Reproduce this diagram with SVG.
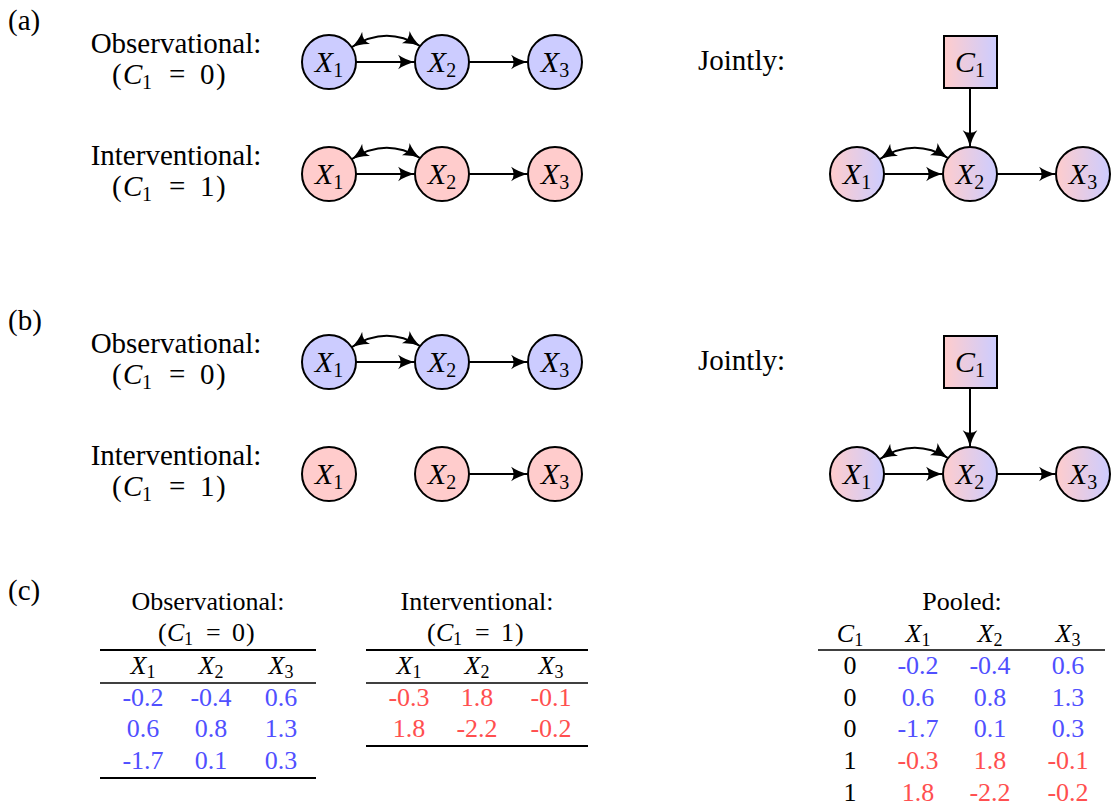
<svg xmlns="http://www.w3.org/2000/svg" width="1112" height="808" viewBox="0 0 1112 808" font-family="'Liberation Serif', 'Times New Roman', serif">
<defs>
<linearGradient id="mix" x1="0" y1="0" x2="1" y2="0">
<stop offset="0" stop-color="#ffcccc"/>
<stop offset="1" stop-color="#ccccff"/>
</linearGradient>
<marker id="arr" viewBox="0 0 16 14" refX="15" refY="7" markerWidth="9" markerHeight="7.9" orient="auto-start-reverse">
<path d="M0,0.5 Q7,5.5 16,7 Q7,8.5 0,13.5 Q4.5,7 0,0.5 Z" fill="#000"/>
</marker>
<style>
.lab{font-size:29px;text-anchor:middle}
.lab2{font-size:29px}
.m{font-size:29px}
.nl{font-size:30px;text-anchor:middle}
.sub{font-size:20px}
.tb{font-size:26px;text-anchor:middle}
.tm{font-size:26px}
.tsub{font-size:18px}
.it{font-style:italic}
.blue{fill:#5050ff}
.red{fill:#ff4f4f}
.obs{fill:#ccccff;stroke:#000;stroke-width:2}
.int{fill:#ffcccc;stroke:#000;stroke-width:2}
.jnt{fill:url(#mix);stroke:#000;stroke-width:2}
.e{fill:none;stroke:#000;stroke-width:2;marker-end:url(#arr)}
.bi{fill:none;stroke:#000;stroke-width:2;marker-end:url(#arr);marker-start:url(#arr)}
.rule{stroke:#000;stroke-width:2}
.mrule{stroke:#000;stroke-width:1.3}
</style>
</defs>

<g id="labels">
<text class="lab2" x="8" y="30">(a)</text>
<text class="lab" x="176" y="53">Observational:</text>
<text class="m" y="84"><tspan x="112">(</tspan><tspan x="123" class="it">C</tspan><tspan x="142" class="sub" dy="5">1</tspan><tspan x="169" dy="-5">=</tspan><tspan x="200">0</tspan><tspan x="216">)</tspan></text>
<text class="lab" x="176" y="165">Interventional:</text>
<text class="m" y="196"><tspan x="112">(</tspan><tspan x="123" class="it">C</tspan><tspan x="142" class="sub" dy="5">1</tspan><tspan x="169" dy="-5">=</tspan><tspan x="200">1</tspan><tspan x="216">)</tspan></text>
<text class="lab2" x="698" y="70">Jointly:</text>

<text class="lab2" x="8" y="330">(b)</text>
<text class="lab" x="176" y="353">Observational:</text>
<text class="m" y="384"><tspan x="112">(</tspan><tspan x="123" class="it">C</tspan><tspan x="142" class="sub" dy="5">1</tspan><tspan x="169" dy="-5">=</tspan><tspan x="200">0</tspan><tspan x="216">)</tspan></text>
<text class="lab" x="176" y="465">Interventional:</text>
<text class="m" y="496"><tspan x="112">(</tspan><tspan x="123" class="it">C</tspan><tspan x="142" class="sub" dy="5">1</tspan><tspan x="169" dy="-5">=</tspan><tspan x="200">1</tspan><tspan x="216">)</tspan></text>
<text class="lab2" x="698" y="370">Jointly:</text>

<text class="lab2" x="8" y="600">(c)</text>
</g>

<g id="connectors">
<path class="bi" d="M352,47 Q386,25 420,46"/>
<path class="e" d="M356,62 L415,62"/>
<path class="e" d="M469,62 L528,62"/>
<path class="bi" d="M352,159 Q386,137 420,158"/>
<path class="e" d="M356,174 L415,174"/>
<path class="e" d="M469,174 L528,174"/>
<path class="e" d="M970,88 L970,147"/>
<path class="bi" d="M880,159 Q914,137 948,158"/>
<path class="e" d="M884,174 L943,174"/>
<path class="e" d="M997,174 L1056,174"/>
<path class="bi" d="M352,347 Q386,325 420,346"/>
<path class="e" d="M356,362 L415,362"/>
<path class="e" d="M469,362 L528,362"/>
<path class="e" d="M469,474 L528,474"/>
<path class="e" d="M970,388 L970,447"/>
<path class="bi" d="M880,459 Q914,437 948,458"/>
<path class="e" d="M884,474 L943,474"/>
<path class="e" d="M997,474 L1056,474"/>
</g>

<g id="a-obs-X1"><circle class="obs" cx="329" cy="62" r="27"/><text class="nl" x="329" y="72"><tspan class="it">X</tspan><tspan class="sub" dy="5">1</tspan></text></g>
<g id="a-obs-X2"><circle class="obs" cx="442" cy="62" r="27"/><text class="nl" x="442" y="72"><tspan class="it">X</tspan><tspan class="sub" dy="5">2</tspan></text></g>
<g id="a-obs-X3"><circle class="obs" cx="555" cy="62" r="27"/><text class="nl" x="555" y="72"><tspan class="it">X</tspan><tspan class="sub" dy="5">3</tspan></text></g>
<g id="a-int-X1"><circle class="int" cx="329" cy="174" r="27"/><text class="nl" x="329" y="184"><tspan class="it">X</tspan><tspan class="sub" dy="5">1</tspan></text></g>
<g id="a-int-X2"><circle class="int" cx="442" cy="174" r="27"/><text class="nl" x="442" y="184"><tspan class="it">X</tspan><tspan class="sub" dy="5">2</tspan></text></g>
<g id="a-int-X3"><circle class="int" cx="555" cy="174" r="27"/><text class="nl" x="555" y="184"><tspan class="it">X</tspan><tspan class="sub" dy="5">3</tspan></text></g>
<g id="a-j-C1"><rect class="jnt" x="944" y="36" width="53" height="52"/><text class="nl" x="970" y="72"><tspan class="it">C</tspan><tspan class="sub" dy="5">1</tspan></text></g>
<g id="a-j-X1"><circle class="jnt" cx="857" cy="174" r="27"/><text class="nl" x="857" y="184"><tspan class="it">X</tspan><tspan class="sub" dy="5">1</tspan></text></g>
<g id="a-j-X2"><circle class="jnt" cx="970" cy="174" r="27"/><text class="nl" x="970" y="184"><tspan class="it">X</tspan><tspan class="sub" dy="5">2</tspan></text></g>
<g id="a-j-X3"><circle class="jnt" cx="1083" cy="174" r="27"/><text class="nl" x="1083" y="184"><tspan class="it">X</tspan><tspan class="sub" dy="5">3</tspan></text></g>

<g id="b-obs-X1"><circle class="obs" cx="329" cy="362" r="27"/><text class="nl" x="329" y="372"><tspan class="it">X</tspan><tspan class="sub" dy="5">1</tspan></text></g>
<g id="b-obs-X2"><circle class="obs" cx="442" cy="362" r="27"/><text class="nl" x="442" y="372"><tspan class="it">X</tspan><tspan class="sub" dy="5">2</tspan></text></g>
<g id="b-obs-X3"><circle class="obs" cx="555" cy="362" r="27"/><text class="nl" x="555" y="372"><tspan class="it">X</tspan><tspan class="sub" dy="5">3</tspan></text></g>
<g id="b-int-X1"><circle class="int" cx="329" cy="474" r="27"/><text class="nl" x="329" y="484"><tspan class="it">X</tspan><tspan class="sub" dy="5">1</tspan></text></g>
<g id="b-int-X2"><circle class="int" cx="442" cy="474" r="27"/><text class="nl" x="442" y="484"><tspan class="it">X</tspan><tspan class="sub" dy="5">2</tspan></text></g>
<g id="b-int-X3"><circle class="int" cx="555" cy="474" r="27"/><text class="nl" x="555" y="484"><tspan class="it">X</tspan><tspan class="sub" dy="5">3</tspan></text></g>
<g id="b-j-C1"><rect class="jnt" x="944" y="336" width="53" height="52"/><text class="nl" x="970" y="372"><tspan class="it">C</tspan><tspan class="sub" dy="5">1</tspan></text></g>
<g id="b-j-X1"><circle class="jnt" cx="857" cy="474" r="27"/><text class="nl" x="857" y="484"><tspan class="it">X</tspan><tspan class="sub" dy="5">1</tspan></text></g>
<g id="b-j-X2"><circle class="jnt" cx="970" cy="474" r="27"/><text class="nl" x="970" y="484"><tspan class="it">X</tspan><tspan class="sub" dy="5">2</tspan></text></g>
<g id="b-j-X3"><circle class="jnt" cx="1083" cy="474" r="27"/><text class="nl" x="1083" y="484"><tspan class="it">X</tspan><tspan class="sub" dy="5">3</tspan></text></g>

<g id="table-obs">
<text class="tb" x="208" y="610">Observational:</text>
<text class="tm" y="641"><tspan x="158">(</tspan><tspan x="167" class="it">C</tspan><tspan x="184" class="tsub" dy="4">1</tspan><tspan x="206" dy="-4">=</tspan><tspan x="232">0</tspan><tspan x="246">)</tspan></text>
<line class="rule" x1="100" y1="650" x2="316" y2="650"/>
<text class="tb" x="143" y="674"><tspan class="it">X</tspan><tspan class="tsub" dy="4">1</tspan></text>
<text class="tb" x="211" y="674"><tspan class="it">X</tspan><tspan class="tsub" dy="4">2</tspan></text>
<text class="tb" x="281" y="674"><tspan class="it">X</tspan><tspan class="tsub" dy="4">3</tspan></text>
<line class="mrule" x1="100" y1="683" x2="316" y2="683"/>
<text class="tb blue" x="143" y="706">-0.2</text><text class="tb blue" x="211" y="706">-0.4</text><text class="tb blue" x="281" y="706">0.6</text>
<text class="tb blue" x="143" y="737">0.6</text><text class="tb blue" x="211" y="737">0.8</text><text class="tb blue" x="281" y="737">1.3</text>
<text class="tb blue" x="143" y="769">-1.7</text><text class="tb blue" x="211" y="769">0.1</text><text class="tb blue" x="281" y="769">0.3</text>
<line class="rule" x1="100" y1="778" x2="316" y2="778"/>
</g>

<g id="table-int">
<text class="tb" x="477" y="610">Interventional:</text>
<text class="tm" y="641"><tspan x="427">(</tspan><tspan x="436" class="it">C</tspan><tspan x="453" class="tsub" dy="4">1</tspan><tspan x="475" dy="-4">=</tspan><tspan x="501">1</tspan><tspan x="515">)</tspan></text>
<line class="rule" x1="366" y1="650" x2="588" y2="650"/>
<text class="tb" x="409" y="674"><tspan class="it">X</tspan><tspan class="tsub" dy="4">1</tspan></text>
<text class="tb" x="477" y="674"><tspan class="it">X</tspan><tspan class="tsub" dy="4">2</tspan></text>
<text class="tb" x="551" y="674"><tspan class="it">X</tspan><tspan class="tsub" dy="4">3</tspan></text>
<line class="mrule" x1="366" y1="683" x2="588" y2="683"/>
<text class="tb red" x="409" y="706">-0.3</text><text class="tb red" x="477" y="706">1.8</text><text class="tb red" x="551" y="706">-0.1</text>
<text class="tb red" x="409" y="737">1.8</text><text class="tb red" x="477" y="737">-2.2</text><text class="tb red" x="551" y="737">-0.2</text>
<line class="rule" x1="366" y1="746" x2="588" y2="746"/>
</g>

<g id="table-pooled">
<text class="tb" x="962" y="610">Pooled:</text>
<text class="tb" x="850" y="642"><tspan class="it">C</tspan><tspan class="tsub" dy="4">1</tspan></text>
<text class="tb" x="918" y="642"><tspan class="it">X</tspan><tspan class="tsub" dy="4">1</tspan></text>
<text class="tb" x="990" y="642"><tspan class="it">X</tspan><tspan class="tsub" dy="4">2</tspan></text>
<text class="tb" x="1068" y="642"><tspan class="it">X</tspan><tspan class="tsub" dy="4">3</tspan></text>
<line class="mrule" x1="818" y1="650" x2="1105" y2="650"/>
<text class="tb" x="850" y="674">0</text><text class="tb blue" x="918" y="674">-0.2</text><text class="tb blue" x="990" y="674">-0.4</text><text class="tb blue" x="1068" y="674">0.6</text>
<text class="tb" x="850" y="706">0</text><text class="tb blue" x="918" y="706">0.6</text><text class="tb blue" x="990" y="706">0.8</text><text class="tb blue" x="1068" y="706">1.3</text>
<text class="tb" x="850" y="737">0</text><text class="tb blue" x="918" y="737">-1.7</text><text class="tb blue" x="990" y="737">0.1</text><text class="tb blue" x="1068" y="737">0.3</text>
<text class="tb" x="850" y="769">1</text><text class="tb red" x="918" y="769">-0.3</text><text class="tb red" x="990" y="769">1.8</text><text class="tb red" x="1068" y="769">-0.1</text>
<text class="tb" x="850" y="801">1</text><text class="tb red" x="918" y="801">1.8</text><text class="tb red" x="990" y="801">-2.2</text><text class="tb red" x="1068" y="801">-0.2</text>
</g>
</svg>
